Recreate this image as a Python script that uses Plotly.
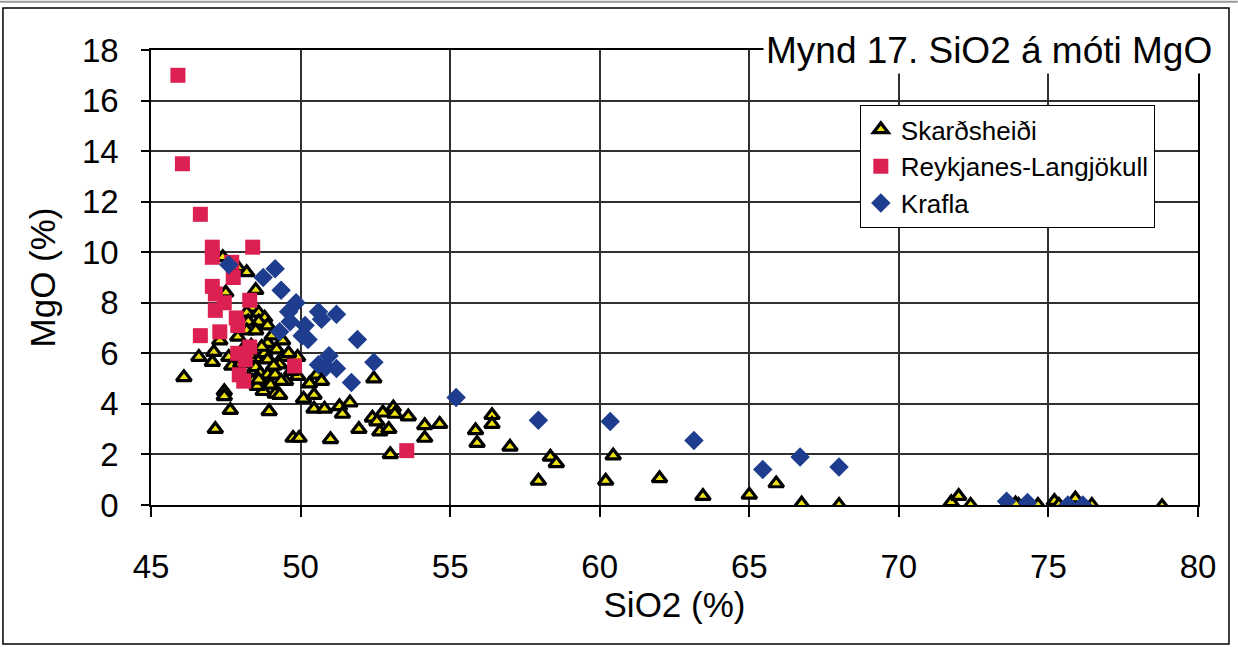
import plotly.graph_objects as go

# Skarðsheiði samples (SiO2 %, MgO %)
skard_sio2 = [
    47.4, 47.9, 48.2, 48.5, 47.5, 48.4, 48.2, 48.6, 48.8, 48.25, 48.6, 48.9, 48.2, 48.5,
    47.9, 47.3, 49.4, 48.9, 49.2, 48.8, 47.1, 46.6, 47.05, 47.6, 47.7, 48.5, 48.9, 49.4,
    49.3, 49.9, 46.1, 49.9, 50.55, 50.3, 50.7, 48.5, 48.65, 48.9, 49.15, 48.25, 48.4,
    48.75, 49.0, 49.15, 49.3, 48.75, 48.55, 50.1, 50.45, 47.45, 47.45, 47.65, 48.95,
    47.15, 49.75, 49.95, 50.45, 50.8, 51.3, 51.4, 51.0, 51.65, 51.95, 52.45, 52.4, 52.55,
    52.75, 53.1, 53.15, 52.65, 52.95, 53.6, 53.0, 54.15, 54.15, 54.65, 55.85, 55.9, 56.4,
    56.4, 57.0, 57.95, 58.35, 58.55, 60.2, 60.45, 62.0, 63.45, 65.0, 65.9, 66.75, 68.0,
    71.75, 72.0, 72.4, 74.0, 73.9, 74.65, 75.2, 75.35, 75.9, 76.45, 78.8,
    48.35, 48.7, 49.05, 48.1, 49.6, 49.7, 49.5, 48.0, 48.3, 49.1, 48.6, 49.35,
]
skard_mgo = [
    9.8, 9.4, 9.2, 8.5, 8.4, 7.8, 7.6, 7.6, 7.4, 7.25, 7.25, 7.1, 6.9, 6.9,
    6.65, 6.5, 6.5, 6.4, 6.15, 6.0, 6.05, 5.85, 5.65, 5.85, 5.5, 5.8, 5.75, 5.85,
    5.55, 5.85, 5.05, 5.1, 5.15, 4.8, 4.9, 5.45, 5.2, 5.15, 5.15, 5.05, 4.9,
    4.8, 4.75, 4.4, 4.35, 4.5, 4.7, 4.2, 4.35, 4.5, 4.3, 3.75, 3.7,
    3.0, 2.65, 2.65, 3.8, 3.8, 3.9, 3.6, 2.6, 4.05, 3.0, 5.0, 3.45, 3.3,
    3.65, 3.85, 3.6, 2.9, 3.0, 3.5, 2.0, 3.15, 2.65, 3.2, 2.95, 2.45, 3.55,
    3.2, 2.3, 0.95, 1.9, 1.65, 0.95, 1.95, 1.05, 0.35, 0.4, 0.85, 0.05, 0.0,
    0.1, 0.35, 0.0, 0.0, 0.05, 0.0, 0.15, 0.0, 0.25, 0.0, -0.05,
    6.3, 6.25, 6.7, 6.2, 6.0, 5.3, 4.9, 5.6, 5.95, 5.5, 4.95, 4.9,
]

# Reykjanes-Langjökull samples
reyk_sio2 = [
    45.9, 46.05, 46.65, 47.05, 47.05, 48.4, 47.7, 47.75, 47.05, 47.15, 47.45, 47.15,
    48.3, 47.85, 47.9, 46.65, 47.3, 48.3, 47.9, 48.15, 47.95, 48.1, 49.8, 53.55,
]
reyk_mgo = [
    17.0, 13.5, 11.5, 10.2, 9.8, 10.2, 9.6, 9.0, 8.65, 8.35, 8.0, 7.7,
    8.1, 7.4, 7.1, 6.7, 6.85, 6.25, 6.0, 5.75, 5.15, 4.9, 5.5, 2.15,
]

# Krafla samples
krafla_sio2 = [
    47.6, 49.15, 48.75, 49.35, 49.85, 49.6, 49.65, 50.6, 50.7, 51.2, 50.15, 50.05,
    50.25, 49.3, 51.9, 50.95, 50.6, 50.85, 51.2, 52.45, 51.7, 55.2, 57.95, 60.35,
    63.15, 65.45, 66.7, 68.0, 73.6, 74.3, 75.65, 76.15,
]
krafla_mgo = [
    9.5, 9.35, 9.0, 8.5, 8.0, 7.65, 7.25, 7.65, 7.35, 7.55, 7.1, 6.7,
    6.55, 6.85, 6.55, 5.9, 5.55, 5.45, 5.4, 5.65, 4.85, 4.25, 3.35, 3.3,
    2.55, 1.4, 1.9, 1.5, 0.15, 0.1, 0.0, 0.0,
]

x_ticks = [45, 50, 55, 60, 65, 70, 75, 80]
y_ticks = [0, 2, 4, 6, 8, 10, 12, 14, 16, 18]

FONT = "Liberation Sans, Arial, sans-serif"
GRID = "#303030"

fig = go.Figure()

fig.add_trace(go.Scatter(
    x=skard_sio2, y=skard_mgo, mode="markers", name="Skarðsheiði",
    marker=dict(symbol="triangle-up", size=13, color="#ece012",
                line=dict(color="black", width=3.2)),
))
fig.add_trace(go.Scatter(
    x=reyk_sio2, y=reyk_mgo, mode="markers", name="Reykjanes-Langjökull",
    marker=dict(symbol="square", size=15, color="#dc2052",
                line=dict(color="#dc2052", width=0)),
))
fig.add_trace(go.Scatter(
    x=krafla_sio2, y=krafla_mgo, mode="markers", name="Krafla",
    marker=dict(symbol="diamond", size=15, color="#1f3d8f",
                line=dict(color="#1f3d8f", width=0)),
))

fig.update_layout(
    width=1238, height=647,
    margin=dict(l=151, r=40, t=50, b=142),
    paper_bgcolor="white", plot_bgcolor="white",
    font=dict(family=FONT, color="black"),
    showlegend=True,
    legend=dict(
        x=0.677, y=0.879, xanchor="left", yanchor="top",
        bgcolor="white", bordercolor="black", borderwidth=1,
        font=dict(size=26, family=FONT, color="black"),
        itemsizing="trace", tracegroupgap=0, itemwidth=30,
    ),
    xaxis=dict(
        range=[45, 80], tickvals=x_ticks, ticktext=[str(v) for v in x_ticks],
        showgrid=True, gridcolor=GRID, gridwidth=1.6,
        showline=True, linecolor="black", linewidth=1.6, mirror=True,
        ticks="outside", ticklen=10, tickcolor="black", tickwidth=1.5,
        tickfont=dict(size=33, family=FONT, color="black"),
        ticklabelstandoff=22,
        zeroline=False,
        title=dict(text="SiO2 (%)", font=dict(size=35, family=FONT, color="black"),
                   standoff=2),
    ),
    yaxis=dict(
        range=[0, 18], tickvals=y_ticks, ticktext=[str(v) for v in y_ticks],
        showgrid=True, gridcolor=GRID, gridwidth=1.6,
        showline=True, linecolor="black", linewidth=1.6, mirror=True,
        ticks="outside", ticklen=8, tickcolor="black", tickwidth=1.5,
        tickfont=dict(size=33, family=FONT, color="black"),
        ticklabelstandoff=16,
        zeroline=False,
        title=dict(text="MgO (%)", font=dict(size=35, family=FONT, color="black"),
                   standoff=16),
    ),
    annotations=[dict(
        text="Mynd 17. SiO2 á móti MgO", xref="paper", yref="paper",
        x=1.0165, y=1.0, xanchor="right", yanchor="middle", showarrow=False,
        font=dict(size=37, family=FONT, color="black"),
        bgcolor="white", borderpad=2,
    )],
    shapes=[
        dict(type="rect", xref="paper", yref="paper",
             x0=-0.1414, x1=1.0296, y0=-0.3055, y1=1.0923,
             line=dict(color="black", width=1.5), layer="below"),
        dict(type="line", xref="paper", yref="paper",
             x0=-0.1442, x1=1.038, y0=1.106, y1=1.106,
             line=dict(color="#9a9a9a", width=2)),
    ],
)

fig.write_html("out.html")
